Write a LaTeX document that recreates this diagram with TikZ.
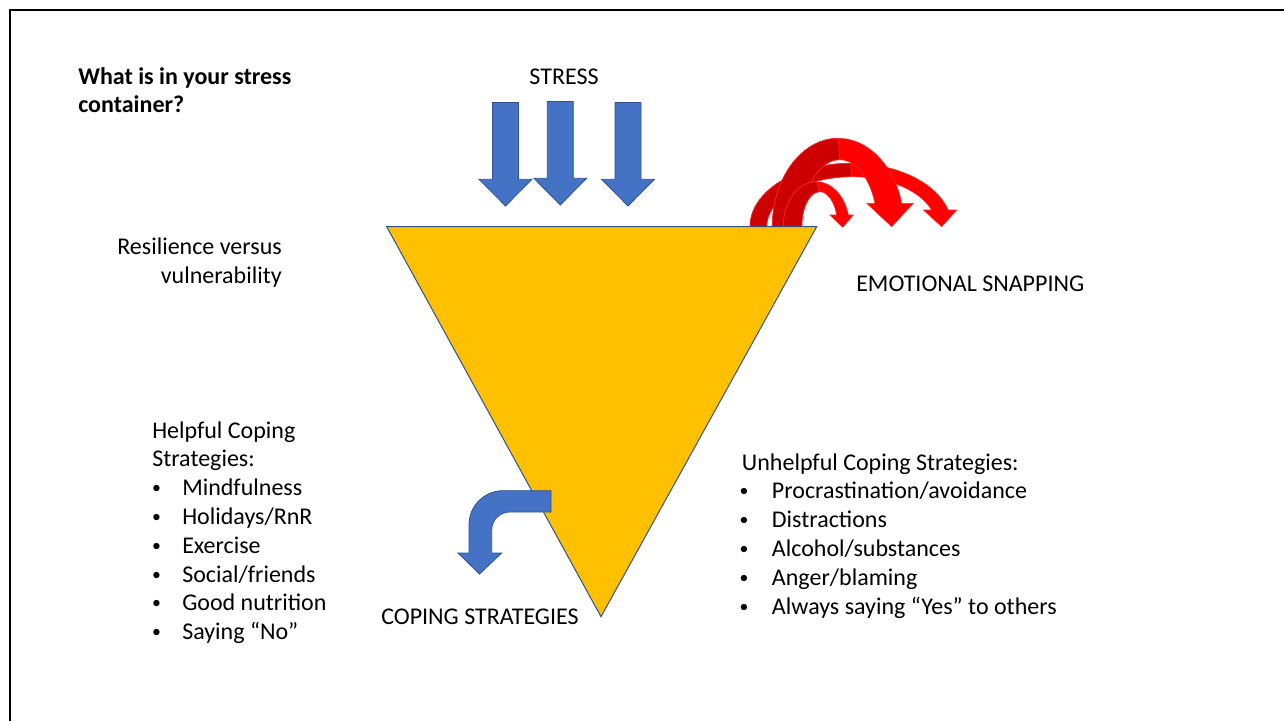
\documentclass[tikz,border=0pt]{standalone}
\usepackage{fontspec}
\usepackage{graphicx}
\setmainfont{Carlito}
\usetikzlibrary{calc}
\definecolor{gold}{HTML}{FFC000}
\definecolor{bfill}{HTML}{4472C4}
\definecolor{bline}{HTML}{2F528F}
\definecolor{rbright}{HTML}{FF0000}
\definecolor{rdark}{HTML}{CC0000}
\definecolor{rline}{HTML}{FF2A2A}
\newcommand{\smallbullet}{\raisebox{1.4pt}{\scalebox{0.74}{\textbullet}}}
\tikzset{
  txt/.style={font=\fontsize{18}{21.6}\selectfont, inner sep=0pt, anchor=base west, text=black},
  frameline/.style={draw=black, line width=1.6pt},
  container/.style={fill=gold, draw=bline, line width=0.75pt, line join=miter},
  bluearrow/.style={fill=bfill, draw=bline, line width=0.6pt, line join=miter},
  redfront/.style={fill=rbright, draw=rline, line width=0.4pt},
  redback/.style={fill=rdark, draw=rline, line width=0.4pt},
  stressarrow/.pic={
    \draw[bluearrow] (-13,103.5) -- (13,103.5) -- (13,26.7) -- (26.4,26.7) -- (0,0)
      -- (-26.4,26.7) -- (-13,26.7) -- cycle;
  }
}
\begin{document}
\begin{tikzpicture}[x=0.75pt,y=0.75pt]
\useasboundingbox (0,0) rectangle (1284,-721);
% frame
\draw[frameline] (10.3,-721) -- (10.3,-10.3) -- (1284,-10.3);

% red curved arrows (back to front)
% arrow 1 (wide)
\path[redfront] (750,-226.7) arc[start angle=180,end angle={asin(16.7/63.4)},x radius=100.9,y radius=63.4]
  -- (956.7,-210) -- (941.7,-226.7) -- (923.3,-210)
  -- ($(851.6,-226.7)+({asin(16.7/50)}:84.9 and 50)$)
  arc[start angle={asin(16.7/50)},end angle=180,x radius=84.9,y radius=50] -- cycle;
\path[redback] (750,-226.7) arc[start angle=180,end angle=90,x radius=100.9,y radius=63.4]
  -- (851.6,-176.7) arc[start angle=90,end angle=180,x radius=84.9,y radius=50] -- cycle;
% arrow 2 (tall)
\path[redfront] (772.3,-226.7) arc[start angle=180,end angle={asin(23.4/88.4)},x radius=65.9,y radius=88.4]
  -- (913.3,-203.3) -- (891.7,-226.7) -- (866.7,-203.3)
  -- ($(839.5,-226.7)+({asin(23.4/67)}:37.8 and 67)$)
  arc[start angle={asin(23.4/67)},end angle=180,x radius=37.8,y radius=67] -- cycle;
\path[redback] (772.3,-226.7) arc[start angle=180,end angle=90,x radius=65.9,y radius=88.4]
  -- (839.5,-159.7) arc[start angle=90,end angle=180,x radius=37.8,y radius=67] -- cycle;
% arrow 3 (small)
\path[redfront] (783.3,-226.7) arc[start angle=180,end angle={asin(11.7/45)},x radius=33.1,y radius=45]
  -- (853.3,-215) -- (842.7,-227.3) -- (830,-215)
  -- ($(819.7,-226.7)+({asin(11.7/35)}:18 and 35)$)
  arc[start angle={asin(11.7/35)},end angle=180,x radius=18,y radius=35] -- cycle;
\path[redback] (783.3,-226.7) arc[start angle=180,end angle=90,x radius=33.1,y radius=45]
  -- (819.7,-191.7) arc[start angle=90,end angle=180,x radius=18,y radius=35] -- cycle;

% container
\coordinate (tl) at (386.7,-226.7);
\coordinate (tr) at (816.7,-226.7);
\coordinate (tb) at (601,-616.7);
\draw[container] (tl) -- (tr) -- (tb) -- cycle;

% stress arrows
\pic at (505.5,-206) {stressarrow};
\pic at (560.3,-205) {stressarrow};
\pic at (628,-206) {stressarrow};

% coping bent arrow
\draw[bluearrow] (551,-490.7) -- (503,-490.7) arc[start angle=90,end angle=180,radius=34]
  -- (469,-553) -- (458,-553) -- (479.5,-574) -- (501.7,-553) -- (491.7,-553)
  -- (491.7,-530) arc[start angle=180,end angle=90,radius=18] -- (551,-512) -- cycle;

% texts
\node[txt, font={\fontsize{18}{21.6}\selectfont\bfseries}] (q1) at (78,-84) {What is in your stress};
\node[txt, font={\fontsize{18}{21.6}\selectfont\bfseries}] (q2) at (78,-112.8) {container?};
\node[txt, anchor=base] (stress) at (564,-84) {STRESS};
\node[txt, anchor=base east] (res1) at (282,-254.3) {Resilience versus};
\node[txt, anchor=base east] (res2) at (282,-283.1) {vulnerability};
\node[txt] (snap) at (856,-291) {EMOTIONAL SNAPPING};
\node[txt] (coping) at (381,-624) {COPING STRATEGIES};

\node[txt] (h1) at (152,-438) {Helpful Coping};
\node[txt] (h2) at (152,-466.8) {Strategies:};
\foreach \t [count=\i] in {Mindfulness, Holidays/RnR, Exercise, Social/friends, Good nutrition, Saying “No”} {
  \node[txt, anchor=base] (hb\i) at (156.5,{-466.8-28.8*\i}) {\smallbullet};
  \node[txt] (hi\i) at (182,{-466.8-28.8*\i}) {\t};
}

\node[txt] (u0) at (741.7,-470) {Unhelpful Coping Strategies:};
\foreach \t [count=\i] in {Procrastination/avoidance, Distractions, Alcohol/substances, Anger/blaming, Always saying “Yes” to others} {
  \node[txt, anchor=base] (ub\i) at (744,{-470-28.8*\i}) {\smallbullet};
  \node[txt] (ui\i) at (771.7,{-470-28.8*\i}) {\t};
}
\end{tikzpicture}
\end{document}
